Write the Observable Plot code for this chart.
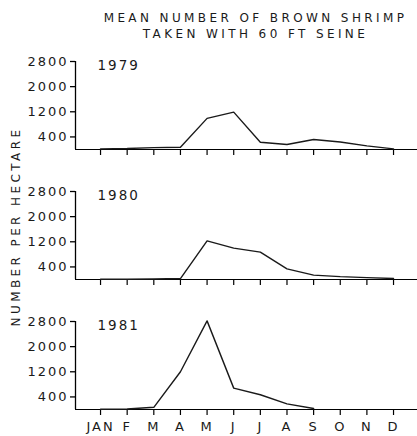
<!DOCTYPE html>
<html>
<head>
<meta charset="utf-8">
<script src="https://cdn.jsdelivr.net/npm/d3@7"></script>
<script src="https://cdn.jsdelivr.net/npm/@observablehq/plot@0.6"></script>
<style>
  html, body { margin: 0; padding: 0; background: #fff; }
  #chart svg text { letter-spacing: 2px; }
  #chart svg .ttl text { letter-spacing: 3.4px; }
</style>
</head>
<body>
<div id="chart"></div>
<script>
const titleLines = ["MEAN NUMBER OF BROWN SHRIMP", "TAKEN WITH 60 FT SEINE"];
const yLabel = "NUMBER PER HECTARE";
const months = ["JAN", "F", "M", "A", "M", "J", "J", "A", "S", "O", "N", "D"];
const yTicks = [400, 1200, 2000, 2800];
const years = [1979, 1980, 1981];
const y1979 = [20, 30, 60, 70, 990, 1190, 230, 160, 320, 240, 115, 20];
const y1980 = [10, 10, 15, 30, 1230, 1000, 870, 340, 140, 90, 60, 30];
const y1981 = [10, 15, 70, 1200, 2820, 680, 470, 180, 30];
const series = [y1979, y1980, y1981];

const rows = years.flatMap((year, i) => series[i].map((v, m) => ({year, m, v})));

// layout
const W = 417;
const axisLeft = 75;          // px of the y axis
const xAxisStart = -0.94;     // month position of the y axis
const xMax = 11.9;
const xMin = xAxisStart - axisLeft * (xMax - xAxisStart) / (W - axisLeft);
const font = "DejaVu Sans, sans-serif";
const ink = "black";

const svg = Plot.plot({
  width: W,
  height: 436,
  marginLeft: 0,
  marginRight: 0,
  marginTop: 61,
  marginBottom: 27,
  x: {domain: [xMin, xMax], label: null},
  y: {domain: [0, 2800], label: null},
  fy: {domain: years, paddingInner: 42 / 130, paddingOuter: 0, axis: null, label: null},
  style: {background: "transparent"},
  marks: [
    Plot.ruleX([xAxisStart], {stroke: ink, strokeWidth: 1.3}),
    Plot.ruleY([0], {x1: xAxisStart, x2: xMax, stroke: ink, strokeWidth: 1.2}),
    Plot.axisY(yTicks, {dx: axisLeft, tickSize: 5, tickPadding: 2, stroke: ink, strokeWidth: 1.3, fill: "#1a1a1a", tickFormat: d3.format("d"), fontFamily: font, fontSize: 13, label: null}),
    Plot.axisX(d3.range(12), {tickSize: 6, stroke: ink, strokeWidth: 1.2, fill: "#1a1a1a", tickFormat: () => "", facetAnchor: null, label: null}),
    Plot.axisX(d3.range(12), {tickSize: 0, tickPadding: 12, stroke: ink, fill: "#1a1a1a", tickFormat: d => months[d], fontFamily: font, fontSize: 13, label: null}),
    Plot.line(rows, {x: "m", y: "v", fy: "year", stroke: "#1a1a1a", strokeWidth: 1.4}),
    Plot.text(years, {fy: d => d, text: d => String(d), frameAnchor: "top-left", dx: axisLeft + 22, dy: 4, lineAnchor: "middle", textAnchor: "start", fontFamily: font, fontSize: 13.5, fill: "#1a1a1a"}),
    Plot.text([titleLines.join("\n")], {fy: () => years[0], frameAnchor: "top", text: d => d, textAnchor: "middle", lineAnchor: "middle", lineHeight: 1.33, dx: 46.5, dy: -37, fontFamily: font, fontSize: 12, fill: "#1a1a1a", className: "ttl"}),
    Plot.text([yLabel], {fy: () => years[1], frameAnchor: "left", text: d => d, textAnchor: "middle", lineAnchor: "middle", rotate: -90, dx: 16, dy: -9, fontFamily: font, fontSize: 12, fill: "#1a1a1a", className: "ttl"})
  ]
});
document.getElementById("chart").appendChild(svg);
</script>
</body>
</html>
